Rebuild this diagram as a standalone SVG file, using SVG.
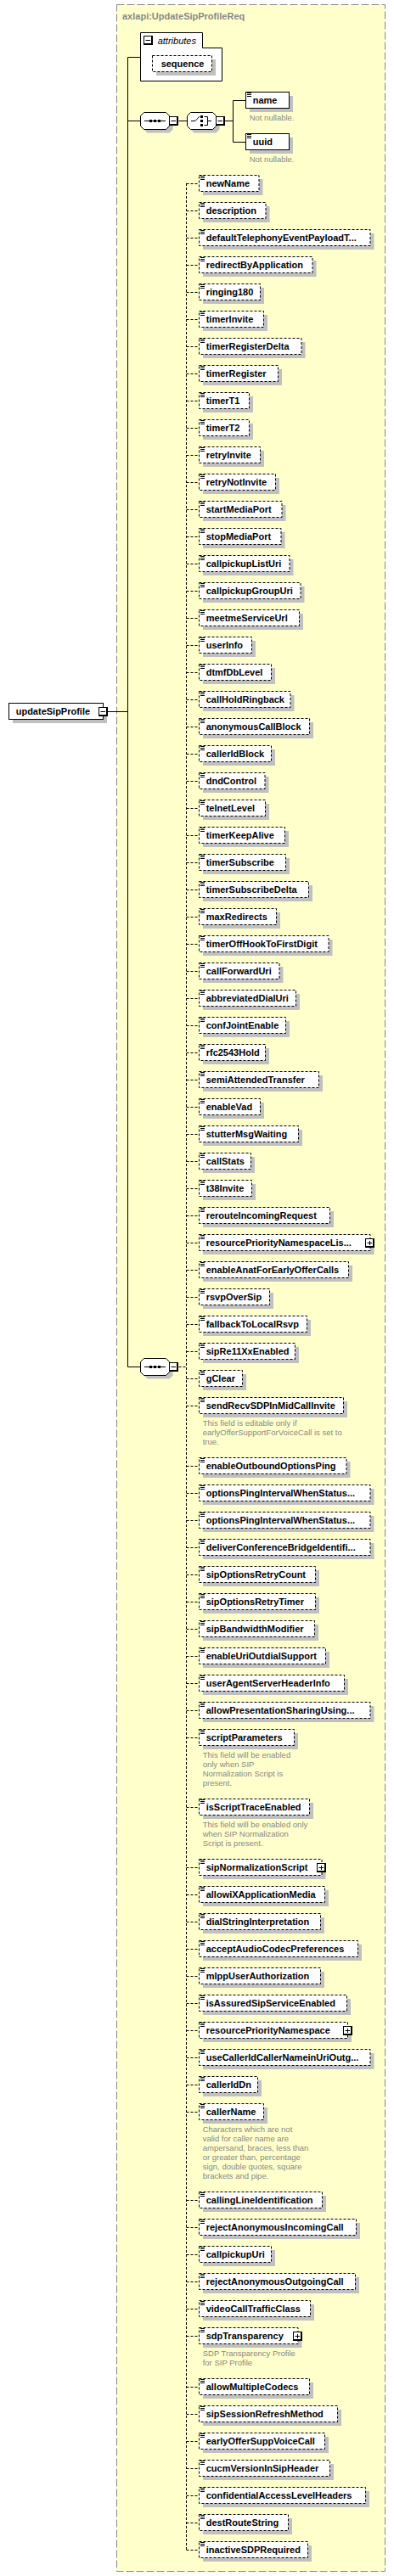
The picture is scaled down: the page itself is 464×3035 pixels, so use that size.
<svg xmlns="http://www.w3.org/2000/svg" xmlns:xlink="http://www.w3.org/1999/xlink" width="464" height="3035" viewBox="0 0 464 3035">
<style>
text{font-family:"Liberation Sans",Arial,sans-serif;font-size:11px;font-weight:bold;fill:#000}
.a{font-size:9.5px;font-weight:normal;fill:#888}
.ti{fill:#888}
.it{font-style:italic;font-weight:normal}
.e{fill:#fff;stroke:#000;stroke-dasharray:3,2}
.b{fill:#fff;stroke:#000}
.s{fill:#c0c0c0;stroke:none}
</style>
<defs>
<path id="ico" d="M0 0.5h5M0 2.5h5M0 4.5h5" stroke="#000" fill="none"/>
<path id="oct" d="M4 0H30L34 4V16L30 20H4L0 16V4Z"/>
<g id="mn"><rect x="0.5" y="0.5" width="10" height="10" fill="#fff" stroke="#000"/><path d="M1 9.5H10.5M9.5 1V10.5M2.5 5.5H8" stroke="#000" fill="none"/></g>
<g id="pl"><use href="#mn" xlink:href="#mn"/><path d="M5.5 3V8" stroke="#000" fill="none"/></g>
</defs>
<rect id="frame" x="137.5" y="5.5" width="316" height="3024" fill="#ffffcc" stroke="#888" stroke-dasharray="9,3"/>
<text class="ti" x="144" y="23">axlapi:UpdateSipProfileReq</text>

<g id="connectors" fill="none" stroke="#000">
<path d="M165.5 67.5H150.5V1610.5H165.5M150.5 142.5H165.5M127 838.5H150.5M210.5 142.5H220.5M265 142.5H274.5M289.5 118.5H274.5V167.5H289.5"/>
<path stroke-dasharray="3,2" d="M210.5 1610.5H219.5M219.5 216V3005"/>
<path stroke-dasharray="3,2" d="M219.5 216.5h15M219.5 248.5h15M219.5 280.5h15M219.5 312.5h15M219.5 344.5h15M219.5 376.5h15M219.5 408.5h15M219.5 440.5h15M219.5 472.5h15M219.5 504.5h15M219.5 536.5h15M219.5 568.5h15M219.5 600.5h15M219.5 632.5h15M219.5 664.5h15M219.5 696.5h15M219.5 728.5h15M219.5 760.5h15M219.5 792.5h15M219.5 824.5h15M219.5 856.5h15M219.5 888.5h15M219.5 920.5h15M219.5 952.5h15M219.5 984.5h15M219.5 1016.5h15M219.5 1048.5h15M219.5 1080.5h15M219.5 1112.5h15M219.5 1144.5h15M219.5 1176.5h15M219.5 1208.5h15M219.5 1240.5h15M219.5 1272.5h15M219.5 1304.5h15M219.5 1336.5h15M219.5 1368.5h15M219.5 1400.5h15M219.5 1432.5h15M219.5 1464.5h15M219.5 1496.5h15M219.5 1528.5h15M219.5 1560.5h15M219.5 1592.5h15M219.5 1624.5h15M219.5 1656.5h15M219.5 1727.5h15M219.5 1759.5h15M219.5 1791.5h15M219.5 1823.5h15M219.5 1855.5h15M219.5 1887.5h15M219.5 1919.5h15M219.5 1951.5h15M219.5 1983.5h15M219.5 2015.5h15M219.5 2047.5h15M219.5 2129.5h15M219.5 2200.5h15M219.5 2232.5h15M219.5 2264.5h15M219.5 2296.5h15M219.5 2328.5h15M219.5 2360.5h15M219.5 2392.5h15M219.5 2424.5h15M219.5 2456.5h15M219.5 2488.5h15M219.5 2592.5h15M219.5 2624.5h15M219.5 2656.5h15M219.5 2688.5h15M219.5 2720.5h15M219.5 2752.5h15M219.5 2812.5h15M219.5 2844.5h15M219.5 2876.5h15M219.5 2908.5h15M219.5 2940.5h15M219.5 2972.5h15M219.5 3004.5h15"/>
</g>

<g id="updateSipProfile">
<rect class="s" x="15" y="833" width="111" height="19"/>
<rect class="b" x="10.5" y="828.5" width="111" height="19"/>
<text x="18.7" y="842">updateSipProfile</text>
<use href="#mn" xlink:href="#mn" x="116" y="833"/>
</g>

<g id="attributes">
<path class="b" d="M165.5 38.5H238.5V56.5H261.5V95.5H165.5Z"/>
<use href="#mn" xlink:href="#mn" x="169" y="42"/>
<text class="it" x="185.7" y="52">attributes</text>
<rect class="s" x="184" y="70" width="70" height="19"/>
<rect class="e" x="179.5" y="65.5" width="70" height="19"/>
<text x="215" y="79" text-anchor="middle">sequence</text>
</g>

<g id="seq1">
<use class="s" href="#oct" xlink:href="#oct" x="169.5" y="136.5"/>
<use class="b" href="#oct" xlink:href="#oct" x="165.5" y="132.5"/>
<path d="M170 142.5H195" stroke="#000"/>
<rect x="176" y="141" width="3" height="3"/><rect x="181" y="141" width="3" height="3"/><rect x="186" y="141" width="3" height="3"/>
<use href="#mn" xlink:href="#mn" x="199" y="137"/>
</g>

<g id="choice1">
<use class="s" href="#oct" xlink:href="#oct" x="224.5" y="136.5"/>
<use class="b" href="#oct" xlink:href="#oct" x="220.5" y="132.5"/>
<path d="M225 142.5H230L235 137" stroke="#000" fill="none"/>
<rect x="236" y="136" width="3" height="3"/><rect x="236" y="141" width="3" height="3"/><rect x="236" y="146" width="3" height="3"/>
<path d="M240.5 137.5H244.5V147.5H240.5M244.5 142.5H249" stroke="#000" fill="none"/>
<use href="#mn" xlink:href="#mn" x="254" y="137"/>
</g>

<g id="name">
<rect class="s" x="294" y="113" width="51" height="19"/>
<rect class="b" x="289.5" y="108.5" width="51" height="19"/>
<use href="#ico" xlink:href="#ico" x="291" y="109"/>
<text x="297.7" y="122">name</text>
<text class="a" x="293.7" y="142">Not nullable.</text>
</g>
<g id="uuid">
<rect class="s" x="294" y="162" width="51" height="19"/>
<rect class="b" x="289.5" y="157.5" width="51" height="19"/>
<use href="#ico" xlink:href="#ico" x="291" y="158"/>
<text x="297.7" y="171">uuid</text>
<text class="a" x="293.7" y="191">Not nullable.</text>
</g>

<g id="seq2">
<use class="s" href="#oct" xlink:href="#oct" x="169.5" y="1604.5"/>
<use class="b" href="#oct" xlink:href="#oct" x="165.5" y="1600.5"/>
<path d="M170 1610.5H195" stroke="#000"/>
<rect x="176" y="1609" width="3" height="3"/><rect x="181" y="1609" width="3" height="3"/><rect x="186" y="1609" width="3" height="3"/>
<use href="#mn" xlink:href="#mn" x="199" y="1605"/>
</g>

<g id="n-newName"><rect class="s" x="239" y="211" width="70.5" height="19"/><rect class="e" x="234.5" y="206.5" width="70.5" height="19"/><use href="#ico" xlink:href="#ico" x="236" y="207"/><text x="242.7" y="220">newName</text></g>
<g id="n-description"><rect class="s" x="239" y="243" width="78.5" height="19"/><rect class="e" x="234.5" y="238.5" width="78.5" height="19"/><use href="#ico" xlink:href="#ico" x="236" y="239"/><text x="242.7" y="252">description</text></g>
<g id="n-defaultTelephonyEventPayloadType"><rect class="s" x="239" y="275" width="201.5" height="19"/><rect class="e" x="234.5" y="270.5" width="201.5" height="19"/><use href="#ico" xlink:href="#ico" x="236" y="271"/><text x="242.7" y="284">defaultTelephonyEventPayloadT...</text></g>
<g id="n-redirectByApplication"><rect class="s" x="239" y="307" width="133.5" height="19"/><rect class="e" x="234.5" y="302.5" width="133.5" height="19"/><use href="#ico" xlink:href="#ico" x="236" y="303"/><text x="242.7" y="316">redirectByApplication</text></g>
<g id="n-ringing180"><rect class="s" x="239" y="339" width="72" height="19"/><rect class="e" x="234.5" y="334.5" width="72" height="19"/><use href="#ico" xlink:href="#ico" x="236" y="335"/><text x="242.7" y="348">ringing180</text></g>
<g id="n-timerInvite"><rect class="s" x="239" y="371" width="76" height="19"/><rect class="e" x="234.5" y="366.5" width="76" height="19"/><use href="#ico" xlink:href="#ico" x="236" y="367"/><text x="242.7" y="380">timerInvite</text></g>
<g id="n-timerRegisterDelta"><rect class="s" x="239" y="403" width="120.5" height="19"/><rect class="e" x="234.5" y="398.5" width="120.5" height="19"/><use href="#ico" xlink:href="#ico" x="236" y="399"/><text x="242.7" y="412">timerRegisterDelta</text></g>
<g id="n-timerRegister"><rect class="s" x="239" y="435" width="93" height="19"/><rect class="e" x="234.5" y="430.5" width="93" height="19"/><use href="#ico" xlink:href="#ico" x="236" y="431"/><text x="242.7" y="444">timerRegister</text></g>
<g id="n-timerT1"><rect class="s" x="239" y="467" width="59" height="19"/><rect class="e" x="234.5" y="462.5" width="59" height="19"/><use href="#ico" xlink:href="#ico" x="236" y="463"/><text x="242.7" y="476">timerT1</text></g>
<g id="n-timerT2"><rect class="s" x="239" y="499" width="59" height="19"/><rect class="e" x="234.5" y="494.5" width="59" height="19"/><use href="#ico" xlink:href="#ico" x="236" y="495"/><text x="242.7" y="508">timerT2</text></g>
<g id="n-retryInvite"><rect class="s" x="239" y="531" width="72" height="19"/><rect class="e" x="234.5" y="526.5" width="72" height="19"/><use href="#ico" xlink:href="#ico" x="236" y="527"/><text x="242.7" y="540">retryInvite</text></g>
<g id="n-retryNotInvite"><rect class="s" x="239" y="563" width="90" height="19"/><rect class="e" x="234.5" y="558.5" width="90" height="19"/><use href="#ico" xlink:href="#ico" x="236" y="559"/><text x="242.7" y="572">retryNotInvite</text></g>
<g id="n-startMediaPort"><rect class="s" x="239" y="595" width="97.5" height="19"/><rect class="e" x="234.5" y="590.5" width="97.5" height="19"/><use href="#ico" xlink:href="#ico" x="236" y="591"/><text x="242.7" y="604">startMediaPort</text></g>
<g id="n-stopMediaPort"><rect class="s" x="239" y="627" width="96.5" height="19"/><rect class="e" x="234.5" y="622.5" width="96.5" height="19"/><use href="#ico" xlink:href="#ico" x="236" y="623"/><text x="242.7" y="636">stopMediaPort</text></g>
<g id="n-callpickupListUri"><rect class="s" x="239" y="659" width="106.5" height="19"/><rect class="e" x="234.5" y="654.5" width="106.5" height="19"/><use href="#ico" xlink:href="#ico" x="236" y="655"/><text x="242.7" y="668">callpickupListUri</text></g>
<g id="n-callpickupGroupUri"><rect class="s" x="239" y="691" width="119.5" height="19"/><rect class="e" x="234.5" y="686.5" width="119.5" height="19"/><use href="#ico" xlink:href="#ico" x="236" y="687"/><text x="242.7" y="700">callpickupGroupUri</text></g>
<g id="n-meetmeServiceUrl"><rect class="s" x="239" y="723" width="118" height="19"/><rect class="e" x="234.5" y="718.5" width="118" height="19"/><use href="#ico" xlink:href="#ico" x="236" y="719"/><text x="242.7" y="732">meetmeServiceUrl</text></g>
<g id="n-userInfo"><rect class="s" x="239" y="755" width="62" height="19"/><rect class="e" x="234.5" y="750.5" width="62" height="19"/><use href="#ico" xlink:href="#ico" x="236" y="751"/><text x="242.7" y="764">userInfo</text></g>
<g id="n-dtmfDbLevel"><rect class="s" x="239" y="787" width="85" height="19"/><rect class="e" x="234.5" y="782.5" width="85" height="19"/><use href="#ico" xlink:href="#ico" x="236" y="783"/><text x="242.7" y="796">dtmfDbLevel</text></g>
<g id="n-callHoldRingback"><rect class="s" x="239" y="819" width="107.5" height="19"/><rect class="e" x="234.5" y="814.5" width="107.5" height="19"/><use href="#ico" xlink:href="#ico" x="236" y="815"/><text x="242.7" y="828">callHoldRingback</text></g>
<g id="n-anonymousCallBlock"><rect class="s" x="239" y="851" width="130" height="19"/><rect class="e" x="234.5" y="846.5" width="130" height="19"/><use href="#ico" xlink:href="#ico" x="236" y="847"/><text x="242.7" y="860">anonymousCallBlock</text></g>
<g id="n-callerIdBlock"><rect class="s" x="239" y="883" width="85" height="19"/><rect class="e" x="234.5" y="878.5" width="85" height="19"/><use href="#ico" xlink:href="#ico" x="236" y="879"/><text x="242.7" y="892">callerIdBlock</text></g>
<g id="n-dndControl"><rect class="s" x="239" y="915" width="77.5" height="19"/><rect class="e" x="234.5" y="910.5" width="77.5" height="19"/><use href="#ico" xlink:href="#ico" x="236" y="911"/><text x="242.7" y="924">dndControl</text></g>
<g id="n-telnetLevel"><rect class="s" x="239" y="947" width="78" height="19"/><rect class="e" x="234.5" y="942.5" width="78" height="19"/><use href="#ico" xlink:href="#ico" x="236" y="943"/><text x="242.7" y="956">telnetLevel</text></g>
<g id="n-timerKeepAlive"><rect class="s" x="239" y="979" width="101" height="19"/><rect class="e" x="234.5" y="974.5" width="101" height="19"/><use href="#ico" xlink:href="#ico" x="236" y="975"/><text x="242.7" y="988">timerKeepAlive</text></g>
<g id="n-timerSubscribe"><rect class="s" x="239" y="1011" width="102" height="19"/><rect class="e" x="234.5" y="1006.5" width="102" height="19"/><use href="#ico" xlink:href="#ico" x="236" y="1007"/><text x="242.7" y="1020">timerSubscribe</text></g>
<g id="n-timerSubscribeDelta"><rect class="s" x="239" y="1043" width="129" height="19"/><rect class="e" x="234.5" y="1038.5" width="129" height="19"/><use href="#ico" xlink:href="#ico" x="236" y="1039"/><text x="242.7" y="1052">timerSubscribeDelta</text></g>
<g id="n-maxRedirects"><rect class="s" x="239" y="1075" width="91" height="19"/><rect class="e" x="234.5" y="1070.5" width="91" height="19"/><use href="#ico" xlink:href="#ico" x="236" y="1071"/><text x="242.7" y="1084">maxRedirects</text></g>
<g id="n-timerOffHookToFirstDigit"><rect class="s" x="239" y="1107" width="152.5" height="19"/><rect class="e" x="234.5" y="1102.5" width="152.5" height="19"/><use href="#ico" xlink:href="#ico" x="236" y="1103"/><text x="242.7" y="1116">timerOffHookToFirstDigit</text></g>
<g id="n-callForwardUri"><rect class="s" x="239" y="1139" width="94.5" height="19"/><rect class="e" x="234.5" y="1134.5" width="94.5" height="19"/><use href="#ico" xlink:href="#ico" x="236" y="1135"/><text x="242.7" y="1148">callForwardUri</text></g>
<g id="n-abbreviatedDialUri"><rect class="s" x="239" y="1171" width="114" height="19"/><rect class="e" x="234.5" y="1166.5" width="114" height="19"/><use href="#ico" xlink:href="#ico" x="236" y="1167"/><text x="242.7" y="1180">abbreviatedDialUri</text></g>
<g id="n-confJointEnable"><rect class="s" x="239" y="1203" width="102" height="19"/><rect class="e" x="234.5" y="1198.5" width="102" height="19"/><use href="#ico" xlink:href="#ico" x="236" y="1199"/><text x="242.7" y="1212">confJointEnable</text></g>
<g id="n-rfc2543Hold"><rect class="s" x="239" y="1235" width="78" height="19"/><rect class="e" x="234.5" y="1230.5" width="78" height="19"/><use href="#ico" xlink:href="#ico" x="236" y="1231"/><text x="242.7" y="1244">rfc2543Hold</text></g>
<g id="n-semiAttendedTransfer"><rect class="s" x="239" y="1267" width="141" height="19"/><rect class="e" x="234.5" y="1262.5" width="141" height="19"/><use href="#ico" xlink:href="#ico" x="236" y="1263"/><text x="242.7" y="1276">semiAttendedTransfer</text></g>
<g id="n-enableVad"><rect class="s" x="239" y="1299" width="72" height="19"/><rect class="e" x="234.5" y="1294.5" width="72" height="19"/><use href="#ico" xlink:href="#ico" x="236" y="1295"/><text x="242.7" y="1308">enableVad</text></g>
<g id="n-stutterMsgWaiting"><rect class="s" x="239" y="1331" width="117" height="19"/><rect class="e" x="234.5" y="1326.5" width="117" height="19"/><use href="#ico" xlink:href="#ico" x="236" y="1327"/><text x="242.7" y="1340">stutterMsgWaiting</text></g>
<g id="n-callStats"><rect class="s" x="239" y="1363" width="61" height="19"/><rect class="e" x="234.5" y="1358.5" width="61" height="19"/><use href="#ico" xlink:href="#ico" x="236" y="1359"/><text x="242.7" y="1372">callStats</text></g>
<g id="n-t38Invite"><rect class="s" x="239" y="1395" width="62" height="19"/><rect class="e" x="234.5" y="1390.5" width="62" height="19"/><use href="#ico" xlink:href="#ico" x="236" y="1391"/><text x="242.7" y="1404">t38Invite</text></g>
<g id="n-rerouteIncomingRequest"><rect class="s" x="239" y="1427" width="154" height="19"/><rect class="e" x="234.5" y="1422.5" width="154" height="19"/><use href="#ico" xlink:href="#ico" x="236" y="1423"/><text x="242.7" y="1436">rerouteIncomingRequest</text></g>
<g id="n-resourcePriorityNamespaceList"><rect class="s" x="239" y="1459" width="201.5" height="19"/><rect class="e" x="234.5" y="1454.5" width="201.5" height="19"/><use href="#ico" xlink:href="#ico" x="236" y="1455"/><text x="242.7" y="1468">resourcePriorityNamespaceLis...</text><use href="#pl" xlink:href="#pl" x="430" y="1459"/></g>
<g id="n-enableAnatForEarlyOfferCalls"><rect class="s" x="239" y="1491" width="176" height="19"/><rect class="e" x="234.5" y="1486.5" width="176" height="19"/><use href="#ico" xlink:href="#ico" x="236" y="1487"/><text x="242.7" y="1500">enableAnatForEarlyOfferCalls</text></g>
<g id="n-rsvpOverSip"><rect class="s" x="239" y="1523" width="83" height="19"/><rect class="e" x="234.5" y="1518.5" width="83" height="19"/><use href="#ico" xlink:href="#ico" x="236" y="1519"/><text x="242.7" y="1532">rsvpOverSip</text></g>
<g id="n-fallbackToLocalRsvp"><rect class="s" x="239" y="1555" width="127" height="19"/><rect class="e" x="234.5" y="1550.5" width="127" height="19"/><use href="#ico" xlink:href="#ico" x="236" y="1551"/><text x="242.7" y="1564">fallbackToLocalRsvp</text></g>
<g id="n-sipRe11XxEnabled"><rect class="s" x="239" y="1587" width="113" height="19"/><rect class="e" x="234.5" y="1582.5" width="113" height="19"/><use href="#ico" xlink:href="#ico" x="236" y="1583"/><text x="242.7" y="1596">sipRe11XxEnabled</text></g>
<g id="n-gClear"><rect class="s" x="239" y="1619" width="51" height="19"/><rect class="e" x="234.5" y="1614.5" width="51" height="19"/><use href="#ico" xlink:href="#ico" x="236" y="1615"/><text x="242.7" y="1628">gClear</text></g>
<g id="n-sendRecvSDPInMidCallInvite"><rect class="s" x="239" y="1651" width="170" height="19"/><rect class="e" x="234.5" y="1646.5" width="170" height="19"/><use href="#ico" xlink:href="#ico" x="236" y="1647"/><text x="242.7" y="1660">sendRecvSDPInMidCallInvite</text>
<text class="a" x="238.7" y="1680">This field is editable only if</text><text class="a" x="238.7" y="1691">earlyOfferSupportForVoiceCall is set to</text><text class="a" x="238.7" y="1702">true.</text></g>
<g id="n-enableOutboundOptionsPing"><rect class="s" x="239" y="1722" width="173.5" height="19"/><rect class="e" x="234.5" y="1717.5" width="173.5" height="19"/><use href="#ico" xlink:href="#ico" x="236" y="1718"/><text x="242.7" y="1731">enableOutboundOptionsPing</text></g>
<g id="n-optionsPingIntervalWhenStatusOK"><rect class="s" x="239" y="1754" width="201.5" height="19"/><rect class="e" x="234.5" y="1749.5" width="201.5" height="19"/><use href="#ico" xlink:href="#ico" x="236" y="1750"/><text x="242.7" y="1763">optionsPingIntervalWhenStatus...</text></g>
<g id="n-optionsPingIntervalWhenStatusNotOK"><rect class="s" x="239" y="1786" width="201.5" height="19"/><rect class="e" x="234.5" y="1781.5" width="201.5" height="19"/><use href="#ico" xlink:href="#ico" x="236" y="1782"/><text x="242.7" y="1795">optionsPingIntervalWhenStatus...</text></g>
<g id="n-deliverConferenceBridgeIdentifier"><rect class="s" x="239" y="1818" width="201.5" height="19"/><rect class="e" x="234.5" y="1813.5" width="201.5" height="19"/><use href="#ico" xlink:href="#ico" x="236" y="1814"/><text x="242.7" y="1827">deliverConferenceBridgeIdentifi...</text></g>
<g id="n-sipOptionsRetryCount"><rect class="s" x="239" y="1850" width="137" height="19"/><rect class="e" x="234.5" y="1845.5" width="137" height="19"/><use href="#ico" xlink:href="#ico" x="236" y="1846"/><text x="242.7" y="1859">sipOptionsRetryCount</text></g>
<g id="n-sipOptionsRetryTimer"><rect class="s" x="239" y="1882" width="137" height="19"/><rect class="e" x="234.5" y="1877.5" width="137" height="19"/><use href="#ico" xlink:href="#ico" x="236" y="1878"/><text x="242.7" y="1891">sipOptionsRetryTimer</text></g>
<g id="n-sipBandwidthModifier"><rect class="s" x="239" y="1914" width="136" height="19"/><rect class="e" x="234.5" y="1909.5" width="136" height="19"/><use href="#ico" xlink:href="#ico" x="236" y="1910"/><text x="242.7" y="1923">sipBandwidthModifier</text></g>
<g id="n-enableUriOutdialSupport"><rect class="s" x="239" y="1946" width="149" height="19"/><rect class="e" x="234.5" y="1941.5" width="149" height="19"/><use href="#ico" xlink:href="#ico" x="236" y="1942"/><text x="242.7" y="1955">enableUriOutdialSupport</text></g>
<g id="n-userAgentServerHeaderInfo"><rect class="s" x="239" y="1978" width="171" height="19"/><rect class="e" x="234.5" y="1973.5" width="171" height="19"/><use href="#ico" xlink:href="#ico" x="236" y="1974"/><text x="242.7" y="1987">userAgentServerHeaderInfo</text></g>
<g id="n-allowPresentationSharingUsingBfcp"><rect class="s" x="239" y="2010" width="201.5" height="19"/><rect class="e" x="234.5" y="2005.5" width="201.5" height="19"/><use href="#ico" xlink:href="#ico" x="236" y="2006"/><text x="242.7" y="2019">allowPresentationSharingUsing...</text></g>
<g id="n-scriptParameters"><rect class="s" x="239" y="2042" width="112" height="19"/><rect class="e" x="234.5" y="2037.5" width="112" height="19"/><use href="#ico" xlink:href="#ico" x="236" y="2038"/><text x="242.7" y="2051">scriptParameters</text>
<text class="a" x="238.7" y="2071">This field will be enabled</text><text class="a" x="238.7" y="2082">only when SIP</text><text class="a" x="238.7" y="2093">Normalization Script is</text><text class="a" x="238.7" y="2104">present.</text></g>
<g id="n-isScriptTraceEnabled"><rect class="s" x="239" y="2124" width="130" height="19"/><rect class="e" x="234.5" y="2119.5" width="130" height="19"/><use href="#ico" xlink:href="#ico" x="236" y="2120"/><text x="242.7" y="2133">isScriptTraceEnabled</text>
<text class="a" x="238.7" y="2153">This field will be enabled only</text><text class="a" x="238.7" y="2164">when SIP Normalization</text><text class="a" x="238.7" y="2175">Script is present.</text></g>
<g id="n-sipNormalizationScript"><rect class="s" x="239" y="2195" width="144.5" height="19"/><rect class="e" x="234.5" y="2190.5" width="144.5" height="19"/><use href="#ico" xlink:href="#ico" x="236" y="2191"/><text x="242.7" y="2204">sipNormalizationScript</text><use href="#pl" xlink:href="#pl" x="373" y="2195"/></g>
<g id="n-allowiXApplicationMedia"><rect class="s" x="239" y="2227" width="148" height="19"/><rect class="e" x="234.5" y="2222.5" width="148" height="19"/><use href="#ico" xlink:href="#ico" x="236" y="2223"/><text x="242.7" y="2236">allowiXApplicationMedia</text></g>
<g id="n-dialStringInterpretation"><rect class="s" x="239" y="2259" width="143" height="19"/><rect class="e" x="234.5" y="2254.5" width="143" height="19"/><use href="#ico" xlink:href="#ico" x="236" y="2255"/><text x="242.7" y="2268">dialStringInterpretation</text></g>
<g id="n-acceptAudioCodecPreferences"><rect class="s" x="239" y="2291" width="187" height="19"/><rect class="e" x="234.5" y="2286.5" width="187" height="19"/><use href="#ico" xlink:href="#ico" x="236" y="2287"/><text x="242.7" y="2300">acceptAudioCodecPreferences</text></g>
<g id="n-mlppUserAuthorization"><rect class="s" x="239" y="2323" width="143" height="19"/><rect class="e" x="234.5" y="2318.5" width="143" height="19"/><use href="#ico" xlink:href="#ico" x="236" y="2319"/><text x="242.7" y="2332">mlppUserAuthorization</text></g>
<g id="n-isAssuredSipServiceEnabled"><rect class="s" x="239" y="2355" width="174" height="19"/><rect class="e" x="234.5" y="2350.5" width="174" height="19"/><use href="#ico" xlink:href="#ico" x="236" y="2351"/><text x="242.7" y="2364">isAssuredSipServiceEnabled</text></g>
<g id="n-resourcePriorityNamespace"><rect class="s" x="239" y="2387" width="175" height="19"/><rect class="e" x="234.5" y="2382.5" width="175" height="19"/><use href="#ico" xlink:href="#ico" x="236" y="2383"/><text x="242.7" y="2396">resourcePriorityNamespace</text><use href="#pl" xlink:href="#pl" x="404" y="2387"/></g>
<g id="n-useCallerIdCallerNameinUriOutgoingRequest"><rect class="s" x="239" y="2419" width="201.5" height="19"/><rect class="e" x="234.5" y="2414.5" width="201.5" height="19"/><use href="#ico" xlink:href="#ico" x="236" y="2415"/><text x="242.7" y="2428">useCallerIdCallerNameinUriOutg...</text></g>
<g id="n-callerIdDn"><rect class="s" x="239" y="2451" width="69" height="19"/><rect class="e" x="234.5" y="2446.5" width="69" height="19"/><use href="#ico" xlink:href="#ico" x="236" y="2447"/><text x="242.7" y="2460">callerIdDn</text></g>
<g id="n-callerName"><rect class="s" x="239" y="2483" width="76" height="19"/><rect class="e" x="234.5" y="2478.5" width="76" height="19"/><use href="#ico" xlink:href="#ico" x="236" y="2479"/><text x="242.7" y="2492">callerName</text>
<text class="a" x="238.7" y="2512">Characters which are not</text><text class="a" x="238.7" y="2523">valid for caller name are</text><text class="a" x="238.7" y="2534">ampersand, braces, less than</text><text class="a" x="238.7" y="2545">or greater than, percentage</text><text class="a" x="238.7" y="2556">sign, double quotes, square</text><text class="a" x="238.7" y="2567">brackets and pipe.</text></g>
<g id="n-callingLineIdentification"><rect class="s" x="239" y="2587" width="145" height="19"/><rect class="e" x="234.5" y="2582.5" width="145" height="19"/><use href="#ico" xlink:href="#ico" x="236" y="2583"/><text x="242.7" y="2596">callingLineIdentification</text></g>
<g id="n-rejectAnonymousIncomingCall"><rect class="s" x="239" y="2619" width="185" height="19"/><rect class="e" x="234.5" y="2614.5" width="185" height="19"/><use href="#ico" xlink:href="#ico" x="236" y="2615"/><text x="242.7" y="2628">rejectAnonymousIncomingCall</text></g>
<g id="n-callpickupUri"><rect class="s" x="239" y="2651" width="85" height="19"/><rect class="e" x="234.5" y="2646.5" width="85" height="19"/><use href="#ico" xlink:href="#ico" x="236" y="2647"/><text x="242.7" y="2660">callpickupUri</text></g>
<g id="n-rejectAnonymousOutgoingCall"><rect class="s" x="239" y="2683" width="184" height="19"/><rect class="e" x="234.5" y="2678.5" width="184" height="19"/><use href="#ico" xlink:href="#ico" x="236" y="2679"/><text x="242.7" y="2692">rejectAnonymousOutgoingCall</text></g>
<g id="n-videoCallTrafficClass"><rect class="s" x="239" y="2715" width="131" height="19"/><rect class="e" x="234.5" y="2710.5" width="131" height="19"/><use href="#ico" xlink:href="#ico" x="236" y="2711"/><text x="242.7" y="2724">videoCallTrafficClass</text></g>
<g id="n-sdpTransparency"><rect class="s" x="239" y="2747" width="116.5" height="19"/><rect class="e" x="234.5" y="2742.5" width="116.5" height="19"/><use href="#ico" xlink:href="#ico" x="236" y="2743"/><text x="242.7" y="2756">sdpTransparency</text><use href="#pl" xlink:href="#pl" x="345" y="2747"/>
<text class="a" x="238.7" y="2776">SDP Transparency Profile</text><text class="a" x="238.7" y="2787">for SIP Profile</text></g>
<g id="n-allowMultipleCodecs"><rect class="s" x="239" y="2807" width="130" height="19"/><rect class="e" x="234.5" y="2802.5" width="130" height="19"/><use href="#ico" xlink:href="#ico" x="236" y="2803"/><text x="242.7" y="2816">allowMultipleCodecs</text></g>
<g id="n-sipSessionRefreshMethod"><rect class="s" x="239" y="2839" width="163" height="19"/><rect class="e" x="234.5" y="2834.5" width="163" height="19"/><use href="#ico" xlink:href="#ico" x="236" y="2835"/><text x="242.7" y="2848">sipSessionRefreshMethod</text></g>
<g id="n-earlyOfferSuppVoiceCall"><rect class="s" x="239" y="2871" width="148" height="19"/><rect class="e" x="234.5" y="2866.5" width="148" height="19"/><use href="#ico" xlink:href="#ico" x="236" y="2867"/><text x="242.7" y="2880">earlyOfferSuppVoiceCall</text></g>
<g id="n-cucmVersionInSipHeader"><rect class="s" x="239" y="2903" width="154" height="19"/><rect class="e" x="234.5" y="2898.5" width="154" height="19"/><use href="#ico" xlink:href="#ico" x="236" y="2899"/><text x="242.7" y="2912">cucmVersionInSipHeader</text></g>
<g id="n-confidentialAccessLevelHeaders"><rect class="s" x="239" y="2935" width="196" height="19"/><rect class="e" x="234.5" y="2930.5" width="196" height="19"/><use href="#ico" xlink:href="#ico" x="236" y="2931"/><text x="242.7" y="2944">confidentialAccessLevelHeaders</text></g>
<g id="n-destRouteString"><rect class="s" x="239" y="2967" width="105" height="19"/><rect class="e" x="234.5" y="2962.5" width="105" height="19"/><use href="#ico" xlink:href="#ico" x="236" y="2963"/><text x="242.7" y="2976">destRouteString</text></g>
<g id="n-inactiveSDPRequired"><rect class="s" x="239" y="2999" width="128" height="19"/><rect class="e" x="234.5" y="2994.5" width="128" height="19"/><use href="#ico" xlink:href="#ico" x="236" y="2995"/><text x="242.7" y="3008">inactiveSDPRequired</text></g>
</svg>
